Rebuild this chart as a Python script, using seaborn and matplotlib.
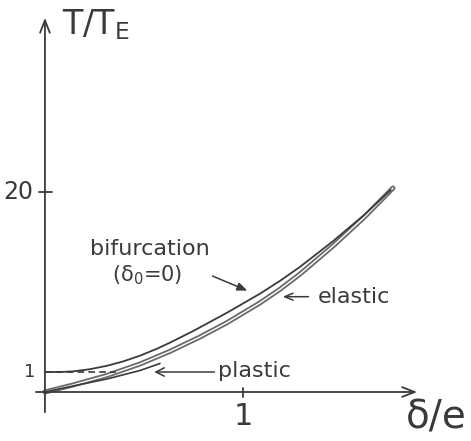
import pandas as pd
import matplotlib
matplotlib.use("Agg")
import matplotlib.pyplot as plt
import seaborn as sns

# Curve values (x = delta/e, y in sketch units where the "20" tick sits at 20)
elastic_x = [0, 0.141, 0.313, 0.480, 0.631, 0.783, 0.919, 1.086, 1.187, 1.288, 1.455, 1.616, 1.758]
elastic_y = [0, 0.7, 1.65, 2.8, 4.06, 5.5, 6.93, 8.91, 10.27, 11.79, 14.6, 17.54, 20.4]

bifurc_x = [0, 0.076, 0.141, 0.227, 0.313, 0.394, 0.480, 0.566, 0.631, 0.747, 0.919,
            1.086, 1.187, 1.288, 1.455, 1.616, 1.747]
bifurc_y = [2.0, 2.0, 2.06, 2.28, 2.62, 3.05, 3.63, 4.33, 4.93, 6.08, 7.92,
            9.83, 11.11, 12.51, 15.08, 17.77, 20.2]

plastic_x = [0, 0.141, 0.313, 0.480, 0.581]
plastic_y = [0, 0.6, 1.3, 2.15, 2.85]

dash_x = [0, 0.36]
dash_y = [2.0, 2.0]

ytick_pos = [2.0, 20]
ytick_lab = ["1", "20"]
xtick_pos = [1]
xtick_lab = ["1"]

df_el = pd.DataFrame({"x": elastic_x, "y": elastic_y})
df_bi = pd.DataFrame({"x": bifurc_x, "y": bifurc_y})
df_pl = pd.DataFrame({"x": plastic_x, "y": plastic_y})

sns.set_style("white")
ink = "#3a3a3a"

fig = plt.figure(figsize=(4.71, 4.41), dpi=100)
ax = fig.add_axes([0, 0, 1, 1])

# curves
kw = dict(ax=ax, sort=False, solid_joinstyle="round", solid_capstyle="round")
sns.lineplot(data=df_el, x="x", y="y", color="#6a6a6a", lw=3.6, **kw)
sns.lineplot(data=df_el, x="x", y="y", color="white", lw=1.0, **kw)
sns.lineplot(data=df_bi, x="x", y="y", color=ink, lw=1.3, **kw)
sns.lineplot(data=df_pl, x="x", y="y", color=ink, lw=1.2, **kw)
ax.plot(dash_x, dash_y, color=ink, lw=1.2, ls=(0, (4, 2.5)))

ax.set_xlim(-0.227, 2.152)
ax.set_ylim(-4.9, 39.2)
ax.axis("off")

# axes drawn by hand, with arrow heads
arr = dict(arrowstyle="->,head_length=0.9,head_width=0.35", color=ink, lw=1.3)
ax.annotate("", xy=(0, 37.7), xytext=(0, -2.3), arrowprops=arr)
ax.annotate("", xy=(1.894, 0), xytext=(-0.06, 0), arrowprops=arr)

# ticks
for yp, lab in zip(ytick_pos, ytick_lab):
    if lab == "20":
        ax.plot([-0.03, 0.035], [yp, yp], color=ink, lw=1.3)
        ax.text(-0.134, yp, lab, ha="center", va="center", fontsize=17, color=ink)
    else:
        ax.text(-0.076, yp, lab, ha="center", va="center", fontsize=13, color=ink)
for xp, lab in zip(xtick_pos, xtick_lab):
    ax.plot([xp, xp], [-0.45, 0.45], color=ink, lw=1.3)
    ax.text(xp, -2.45, lab, ha="center", va="center", fontsize=22, color=ink)

# axis labels
ax.text(0.086, 35.8, "T/T$_\\mathregular{E}$", ha="left", va="baseline", fontsize=24, color=ink)
ax.text(1.975, -2.5, "δ/e", ha="center", va="center", fontsize=28, color=ink)

# annotations
ax.text(0.53, 14.3, "bifurcation", ha="center", va="center", fontsize=16, color=ink)
ax.text(0.518, 11.65, "(δ$_\\mathregular{0}$=0)", ha="center", va="center", fontsize=15, color=ink)
ax.annotate("", xy=(1.035, 10.03), xytext=(0.834, 11.7),
            arrowprops=dict(arrowstyle="-|>,head_length=0.6,head_width=0.25", color=ink, lw=1.1))
ax.text(1.561, 9.5, "elastic", ha="center", va="center", fontsize=16, color=ink)
ax.annotate("", xy=(1.187, 9.53), xytext=(1.345, 9.53),
            arrowprops=dict(arrowstyle="->,head_length=0.6,head_width=0.25", color=ink, lw=1.1))
ax.text(1.056, 2.1, "plastic", ha="center", va="center", fontsize=16, color=ink)
ax.annotate("", xy=(0.538, 2.0), xytext=(0.87, 2.0),
            arrowprops=dict(arrowstyle="->,head_length=0.6,head_width=0.3", color=ink, lw=1.1))

fig.savefig("out.png", dpi=100)
